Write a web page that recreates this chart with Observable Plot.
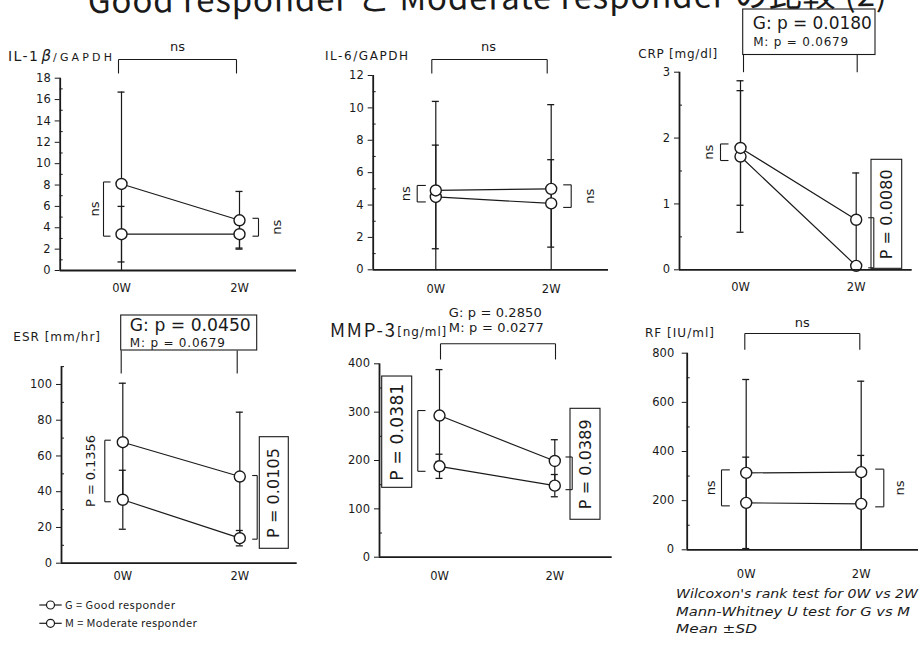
<!DOCTYPE html>
<html><head><meta charset="utf-8">
<script src="https://cdn.jsdelivr.net/npm/d3@7"></script>
<script src="https://cdn.jsdelivr.net/npm/@observablehq/plot@0.6"></script>
<style>
body{margin:0;background:#fff;}
#root{position:relative;width:919px;height:645px;overflow:hidden;background:#fff;}
</style></head><body><div id="root"></div>
<script>
// ---------- data ----------
const weeks = [0, 2];
const weekLabels = ["0W", "2W"];
const groups = ["G", "M"];

const il1bG = [3.4, 3.4], il1bGsd = [2.6, 1.3], il1bM = [8.1, 4.7], il1bMsd = [8.6, 2.7];
const il6G = [4.5, 4.1], il6Gsd = [3.2, 2.7], il6M = [4.9, 5.0], il6Msd = [5.5, 5.2];
const crpG = [1.72, 0.06], crpGsd = [1.15, 0.05], crpM = [1.85, 0.76], crpMsd = [0.87, 0.71];
const esrG = [35.5, 14], esrGsd = [16.5, 4.3], esrM = [67.7, 48.5], esrMsd = [33, 36];
const mmp3G = [188, 148], mmp3Gsd = [25, 23], mmp3M = [293, 199], mmp3Msd = [95, 44];
const rfG = [191, 187], rfGsd = [186, 197], rfM = [313, 316], rfMsd = [380, 370];

const il1bTicks = [0, 2, 4, 6, 8, 10, 12, 14, 16, 18];
const il6Ticks = [0, 2, 4, 6, 8, 10, 12];
const crpTicks = [0, 1, 2, 3];
const esrTicks = [0, 20, 40, 60, 80, 100];
const mmp3Ticks = [0, 100, 200, 300, 400];
const rfTicks = [0, 200, 400, 600, 800];

const il1bMinor = [1, 3, 5, 7, 9, 11, 13, 15, 17];
const il6Minor = [1, 3, 5, 7, 9, 11];
const crpMinor = [0.5, 1.5, 2.5];
const esrMinor = [10, 30, 50, 70, 90, 110];
const mmp3Minor = [50, 150, 250, 350];
const rfMinor = [100, 300, 500, 700];

const textWidths = {
  "G: p = 0.0180": 119, "M: p = 0.0679": 95, "G: p = 0.0450": 121,
  "G: p = 0.2850": 93, "M: p = 0.0277": 95,
  "P = 0.0080": 90, "P = 0.0105": 90, "P = 0.0381": 97, "P = 0.0389": 90, "P = 0.1356": 72
};

// ---------- helpers ----------
const INK = "#1a1a1a";
const FONT = "DejaVu Sans";
const root = document.getElementById("root");
const seg = arr => Plot.link(arr, {x1: "x1", y1: "y1", x2: "x2", y2: "y2", stroke: INK, strokeWidth: 1.1});
const txt = (x, y, t, o = {}) => Plot.text([{x, y, t}], {x: "x", y: "y", text: "t", fill: INK,
  fontFamily: o.family || FONT, fontSize: o.size || 13, rotate: o.rotate || 0,
  textAnchor: o.anchor || "middle", lineAnchor: "middle"});
const box = (x1, x2, y1, y2) => Plot.rect([{x1, x2, y1, y2}], {x1: "x1", x2: "x2", y1: "y1", y2: "y2",
  fill: "white", stroke: INK, strokeWidth: 1.1});

function topBracket(h, xL, xR, hPx, endPx) {
  return seg([
    {x1: xL, y1: h.yUp(endPx), x2: xL, y2: h.yUp(hPx)},
    {x1: xL, y1: h.yUp(hPx), x2: xR, y2: h.yUp(hPx)},
    {x1: xR, y1: h.yUp(hPx), x2: xR, y2: h.yUp(endPx)}
  ]);
}
function sideBracket(h, w, a, b, barPx, armPx, ext) {
  const yt = h.yv(Math.max(a, b), ext), yb = h.yv(Math.min(a, b), -ext);
  const xb = h.wx(w, barPx), xa = h.wx(w, armPx);
  return seg([
    {x1: xa, y1: yt, x2: xb, y2: yt},
    {x1: xb, y1: yt, x2: xb, y2: yb},
    {x1: xb, y1: yb, x2: xa, y2: yb}
  ]);
}

function panel(cfg) {
  const {cell, px0W, px2W, x0, x1, yTopPx, yBotPx, ymax, ticks, minor, G, Gsd, M, Msd, xPad, yPad} = cfg;
  const kx = (px2W - px0W) / 2, ky = (yBotPx - yTopPx) / ymax;
  const xmin = -(px0W - x0) / kx, xmax = 2 + (x1 - px2W) / kx;
  const h = {
    wx: (w, d) => w + d / kx,
    yUp: d => ymax + d / ky,
    yv: (v, d) => v + d / ky
  };
  const rows = [];
  groups.forEach((g, gi) => weeks.forEach((w, wi) => {
    const m = (gi ? M : G)[wi], s = (gi ? Msd : Gsd)[wi];
    rows.push({group: g, week: w, mean: m, hi: m + s, lo: Math.max(0, m - s), lowCap: m - s > 0});
  }));
  const cap = 3.5 / kx;
  const svg = Plot.plot({
    width: cell.w, height: cell.h,
    marginLeft: x0 - cell.x, marginRight: cell.x + cell.w - x1,
    marginTop: yTopPx - cell.y, marginBottom: cell.y + cell.h - yBotPx,
    style: {background: "transparent", fontFamily: FONT, fontSize: "11.5px", color: INK, overflow: "visible"},
    x: {domain: [xmin, xmax], ticks: weeks, tickFormat: d => weekLabels[weeks.indexOf(d)], tickSize: 0, tickPadding: xPad, label: null},
    y: {domain: [0, ymax], ticks, tickFormat: d => String(d), tickSize: 5, tickPadding: yPad ?? 4.5, label: null},
    marks: [
      Plot.ruleY(minor, {x1: () => xmin, x2: () => xmin + 3 / kx, stroke: INK, strokeWidth: 1}),
      Plot.ruleX(rows, {x: "week", y1: "lo", y2: "hi", stroke: INK, strokeWidth: 1.2}),
      Plot.ruleY(rows, {y: "hi", x1: d => d.week - cap, x2: d => d.week + cap, stroke: INK, strokeWidth: 1.3}),
      Plot.ruleY(rows.filter(d => d.lowCap), {y: "lo", x1: d => d.week - cap, x2: d => d.week + cap, stroke: INK, strokeWidth: 1.3}),
      Plot.line(rows, {x: "week", y: "mean", z: "group", stroke: INK, strokeWidth: 1.2}),
      Plot.dot(rows, {x: "week", y: "mean", r: 5.5, fill: "white", stroke: INK, strokeWidth: 1.4}),
      ...cfg.ann(h),
      Plot.ruleY([0], {stroke: INK, strokeWidth: 1.8}),
      Plot.ruleX([xmin], {stroke: INK, strokeWidth: 1.8})
    ]
  });
  d3.select(svg).selectAll("text").each(function () {
    const w = textWidths[this.textContent];
    if (w) this.setAttribute("textLength", w);
  });
  svg.style.position = "absolute";
  svg.style.left = cell.x + "px";
  svg.style.top = cell.y + "px";
  root.appendChild(svg);
}

// ---------- panels ----------
panel({
  cell: {x: 0, y: 0, w: 305, h: 300}, px0W: 121, px2W: 239, x0: 59.7, x1: 296, yTopPx: 77.7, yBotPx: 270,
  ymax: 18, ticks: il1bTicks, minor: il1bMinor, G: il1bG, Gsd: il1bGsd, M: il1bM, Msd: il1bMsd, xPad: 13,
  ann: h => [
    topBracket(h, h.wx(0, -3), h.wx(2, -3), 18.7, 4.7),
    txt(h.wx(1, -3), h.yUp(31.7), "ns"),
    sideBracket(h, 0, il1bM[0], il1bG[0], -18, -11, 2),
    txt(h.wx(0, -27), (il1bM[0] + il1bG[0]) / 2, "ns", {rotate: -90}),
    sideBracket(h, 2, il1bM[1], il1bG[1], 19, 13, 2),
    txt(h.wx(2, 37), (il1bM[1] + il1bG[1]) / 2, "ns", {rotate: -90})
  ]
});

panel({
  cell: {x: 305, y: 0, w: 310, h: 300}, px0W: 435.3, px2W: 550.7, x0: 372.7, x1: 608, yTopPx: 75, yBotPx: 269.3,
  ymax: 12, ticks: il6Ticks, minor: il6Minor, G: il6G, Gsd: il6Gsd, M: il6M, Msd: il6Msd, xPad: 15,
  ann: h => [
    topBracket(h, h.wx(0, -4), h.wx(2, -4), 16, 2),
    txt(h.wx(1, -5), h.yUp(29), "ns"),
    sideBracket(h, 0, il6M[0], il6G[0], -18.6, -10, 5),
    txt(h.wx(0, -30), (il6M[0] + il6G[0]) / 2, "ns", {rotate: -90}),
    sideBracket(h, 2, il6M[1], il6G[1], 20, 12, 4),
    txt(h.wx(2, 39), (il6M[1] + il6G[1]) / 2, "ns", {rotate: -90})
  ]
});

panel({
  cell: {x: 615, y: 0, w: 304, h: 300}, px0W: 740, px2W: 855.7, x0: 679, x1: 911.7, yTopPx: 71.7, yBotPx: 269.3,
  ymax: 3, ticks: crpTicks, minor: crpMinor, G: crpG, Gsd: crpGsd, M: crpM, Msd: crpMsd, xPad: 13,
  ann: h => [
    seg([
      {x1: h.wx(0, 3), y1: h.yUp(17.2), x2: h.wx(0, 3), y2: h.yUp(0)},
      {x1: h.wx(2, 1), y1: h.yUp(17.2), x2: h.wx(2, 1), y2: h.yUp(0)}
    ]),
    box(h.wx(0, 2.7), h.wx(2, 19.3), h.yUp(62.7), h.yUp(17.2)),
    txt(h.wx(0, 12.3), h.yUp(48.5), "G: p = 0.0180", {size: 17, anchor: "start"}),
    txt(h.wx(0, 12.7), h.yUp(30.1), "M: p = 0.0679", {size: 12, anchor: "start"}),
    sideBracket(h, 0, crpM[0], crpG[0], -20, -12, 4),
    txt(h.wx(0, -32), (crpM[0] + crpG[0]) / 2, "ns", {rotate: -90}),
    box(h.wx(2, 15.3), h.wx(2, 46), 1.67, 0.015),
    sideBracket(h, 2, crpM[1], crpG[1], 17.6, 12, 2),
    txt(h.wx(2, 30.7), (1.67 + 0.015) / 2, "P = 0.0080", {size: 16, rotate: -90})
  ]
});

panel({
  cell: {x: 0, y: 300, w: 305, h: 300}, px0W: 122.3, px2W: 239.3, x0: 61, x1: 296.7, yTopPx: 366.1, yBotPx: 562.7,
  ymax: 110, ticks: esrTicks, minor: esrMinor, G: esrG, Gsd: esrGsd, M: esrM, Msd: esrMsd, xPad: 9,
  ann: h => [
    seg([
      {x1: h.wx(0, -1.6), y1: h.yUp(16.1), x2: h.wx(0, -1.6), y2: h.yUp(-6.9)},
      {x1: h.wx(2, -2.6), y1: h.yUp(16.1), x2: h.wx(2, -2.6), y2: h.yUp(-6.9)}
    ]),
    box(h.wx(0, -1.6), h.wx(2, 17.4), h.yUp(51.1), h.yUp(16.1)),
    txt(h.wx(0, 7), h.yUp(40.7), "G: p = 0.0450", {size: 17.2, anchor: "start"}),
    txt(h.wx(0, 7), h.yUp(23.7), "M: p = 0.0679", {size: 12, anchor: "start"}),
    sideBracket(h, 0, esrM[0], esrG[0], -18, -12, 2),
    txt(h.wx(0, -32), (esrM[0] + esrG[0]) / 2, "P = 0.1356", {size: 13, rotate: -90}),
    box(h.wx(2, 20), h.wx(2, 49), 70.5, 8.06),
    sideBracket(h, 2, esrM[1], esrG[1], 17.4, 12.4, 1),
    txt(h.wx(2, 34.5), (70.5 + 8.06) / 2, "P = 0.0105", {size: 16, rotate: -90})
  ]
});

panel({
  cell: {x: 305, y: 300, w: 310, h: 300}, px0W: 439, px2W: 554.3, x0: 379, x1: 611.7, yTopPx: 363.3, yBotPx: 556.7,
  ymax: 400, ticks: mmp3Ticks, minor: mmp3Minor, G: mmp3G, Gsd: mmp3Gsd, M: mmp3M, Msd: mmp3Msd, xPad: 15,
  ann: h => [
    txt(h.wx(0, 9.3), h.yUp(50.7), "G: p = 0.2850", {size: 13, anchor: "start"}),
    txt(h.wx(0, 9.3), h.yUp(35.7), "M: p = 0.0277", {size: 13, anchor: "start"}),
    topBracket(h, h.wx(0, 1), h.wx(2, 0.7), 20, 4.3),
    box(h.wx(0, -57.3), h.wx(0, -27.3), 373.7, 143.5),
    txt(h.wx(0, -42.3), (373.7 + 143.5) / 2, "P = 0.0381", {size: 17, rotate: -90}),
    sideBracket(h, 0, mmp3M[0], mmp3G[0], -21.7, -14, 5),
    box(h.wx(2, 15.7), h.wx(2, 45.7), 306.9, 77.4),
    sideBracket(h, 2, mmp3M[1], mmp3G[1], 17.4, 10.7, 4),
    txt(h.wx(2, 30.7), (306.9 + 77.4) / 2, "P = 0.0389", {size: 16, rotate: -90})
  ]
});

panel({
  cell: {x: 615, y: 300, w: 304, h: 300}, px0W: 745.7, px2W: 860.7, x0: 686.7, x1: 918, yTopPx: 352.7, yBotPx: 549.3,
  ymax: 800, ticks: rfTicks, minor: rfMinor, G: rfG, Gsd: rfGsd, M: rfM, Msd: rfMsd, xPad: 20, yPad: 8,
  ann: h => [
    topBracket(h, h.wx(0, -1.4), h.wx(2, -1.4), 19.7, 3.4),
    txt(h.wx(1, -1.5), h.yUp(30), "ns"),
    sideBracket(h, 0, rfM[0], rfG[0], -24.7, -16.4, 3),
    txt(h.wx(0, -35.7), (rfM[0] + rfG[0]) / 2, "ns", {rotate: -90}),
    sideBracket(h, 2, rfM[1], rfG[1], 22.6, 14, 3),
    txt(h.wx(2, 39), (rfM[1] + rfG[1]) / 2, "ns", {rotate: -90})
  ]
});

// ---------- titles, legend, footnote ----------
const ov = d3.select(root).append("svg").attr("width", 919).attr("height", 645)
  .style("position", "absolute").style("left", "0px").style("top", "0px").style("pointer-events", "none");
function label(t, x, y, o = {}) {
  const e = ov.append("text").attr("x", x).attr("y", y).text(t)
    .attr("font-family", o.family || FONT).attr("font-size", o.size || 12)
    .attr("font-style", o.italic ? "italic" : "normal").attr("fill", INK);
  if (o.len) e.attr("textLength", o.len).attr("lengthAdjust", o.adjust || "spacing");
  return e;
}
label("Good responder と Moderate responder の比較 (2)", 88, 13, {family: "Noto Sans CJK JP", size: 33, len: 799})
  .attr("transform", "rotate(-0.5 88 13)");

label("IL-1", 8, 60.5, {size: 14, len: 30});
label("β", 41.5, 60.5, {size: 15, italic: true});
label("/GAPDH", 53, 60.5, {size: 11, len: 59});
label("IL-6/GAPDH", 325, 60, {size: 12, len: 83});
label("CRP [mg/dl]", 638.3, 57.5, {size: 12, len: 79});
label("ESR [mm/hr]", 13.3, 340.7, {size: 12, len: 86.7});
label("MMP-3", 330, 337.3, {family: "Noto Sans CJK JP", size: 18.5, len: 65});
label("[ng/ml]", 397.3, 336, {size: 12, len: 49});
label("RF [IU/ml]", 645, 337.3, {size: 12, len: 69});

const legendItems = ["G = Good responder", "M = Moderate responder"];
const legendY = [605, 623.3];
legendItems.forEach((t, i) => {
  ov.append("line").attr("x1", 39.3).attr("x2", 61.7).attr("y1", legendY[i]).attr("y2", legendY[i])
    .attr("stroke", INK).attr("stroke-width", 1.2);
  ov.append("circle").attr("cx", 50.5).attr("cy", legendY[i]).attr("r", 4)
    .attr("fill", "white").attr("stroke", INK).attr("stroke-width", 1.2);
  label(t, 65, legendY[i] + 4, {family: "Noto Sans CJK JP", size: 11, len: i ? 131.7 : 110});
});

const notes = ["Wilcoxon's rank test for 0W vs 2W", "Mann-Whitney U test for G vs M", "Mean \u00b1SD"];
const noteY = [598, 615.5, 633];
const noteW = [242, 234, 81];
notes.forEach((t, i) => label(t, 676, noteY[i], {size: 13, italic: true, len: noteW[i], adjust: "spacingAndGlyphs"}));
</script>
</body></html>
